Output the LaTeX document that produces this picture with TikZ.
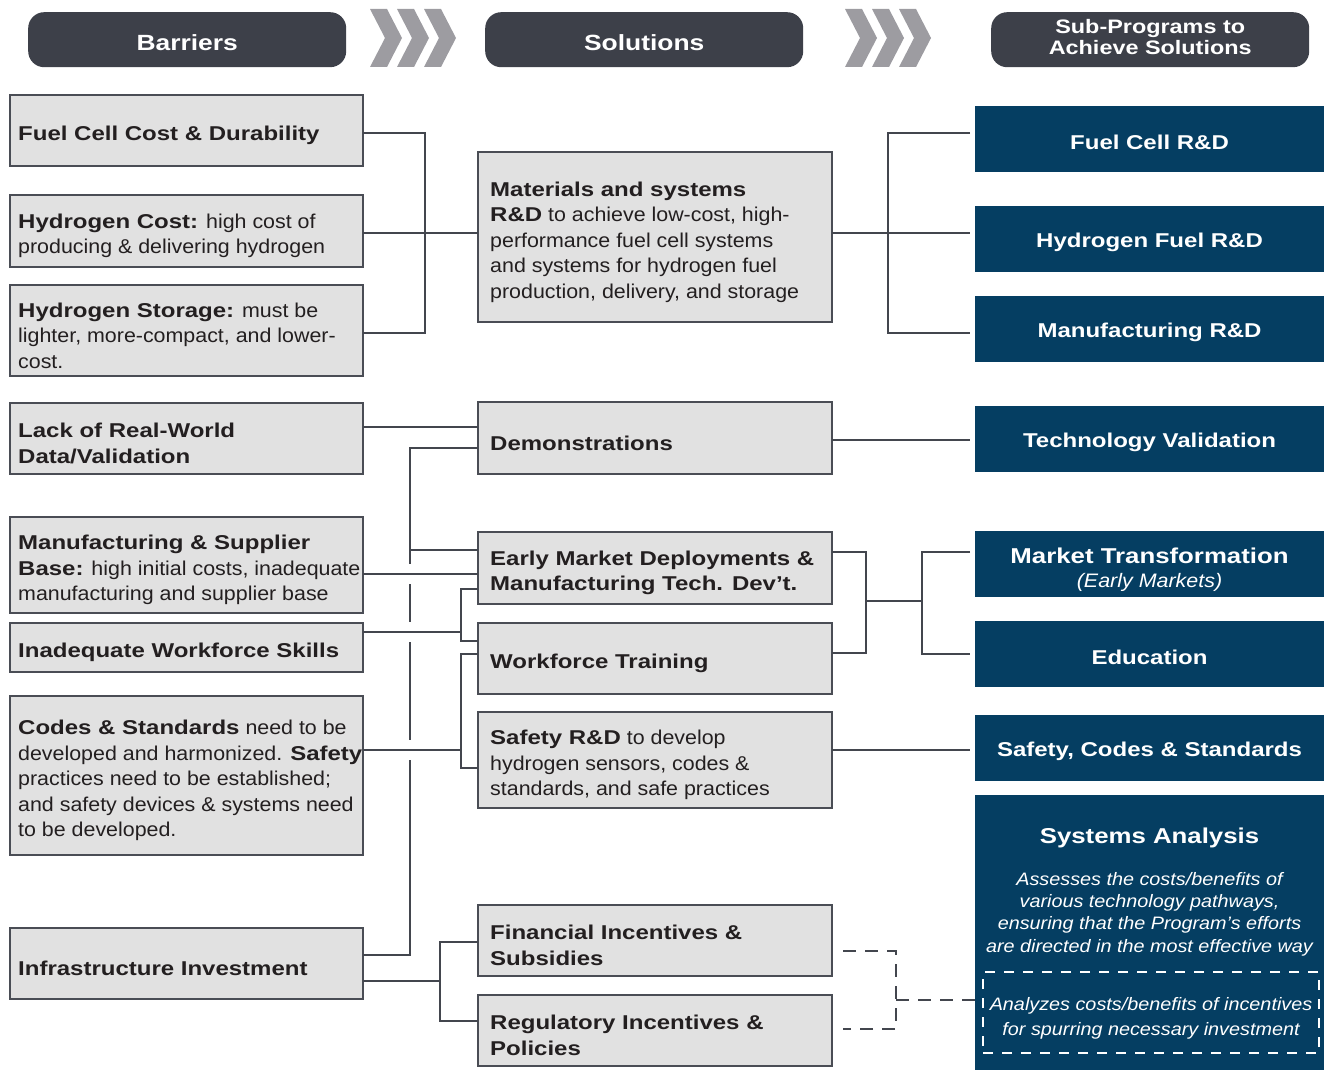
\documentclass[tikz,border=0pt]{standalone}
\usepackage{fontspec}
\setmainfont{Liberation Sans}[UprightFeatures={FakeStretch=1.07},BoldFeatures={FakeStretch=1.2},ItalicFeatures={FakeStretch=1.1},BoldItalicFeatures={FakeStretch=1.2}]
\usetikzlibrary{calc}
\definecolor{hdrgray}{HTML}{3D4049}
\definecolor{boxfill}{HTML}{E1E1E1}
\definecolor{boxline}{HTML}{4A4D55}
\definecolor{cline}{HTML}{43464E}
\definecolor{navy}{HTML}{053E62}
\definecolor{chevc}{HTML}{9D9CA1}
\definecolor{inkc}{HTML}{231F20}
\newcommand\GBox[7]{\node[gbox, minimum width=#4pt, minimum height=#5pt] (#1) at (#2,#3) {};
  \node[txt] (#1t) at ([xshift=#6pt,yshift=-5pt]#1.west) {#7};}
\newcommand\NBox[4]{\node[nbox] (#1) at (975,#2) {};
  \node[ntxt] (#1t) at ([yshift=#3pt]#1.center) {#4};}
\begin{document}
\begin{tikzpicture}[x=1pt,y=-1pt,
 gbox/.style={draw=boxline, fill=boxfill, line width=2.8pt, anchor=north west, inner sep=0pt, outer sep=0pt},
 txt/.style={anchor=west, align=left, inner sep=0pt, text=inkc, font=\fontsize{20}{25.5}\selectfont},
 nbox/.style={fill=navy, anchor=north west, inner sep=0pt, outer sep=0pt, minimum width=349pt, minimum height=66pt},
 ntxt/.style={text=white, align=center, inner sep=0pt, font=\fontsize{20}{24}\selectfont\bfseries},
 hbox/.style={fill=hdrgray, rounded corners=16pt, anchor=north west, inner sep=0pt, minimum width=318pt, minimum height=55pt},
 htxt/.style={text=white, align=center, inner sep=0pt},
 link/.style={draw=cline, line width=2.6pt},
 dlink/.style={draw=cline, line width=2.6pt, dash pattern=on 13pt off 9pt},
 gapmark/.style={draw=white, line width=6pt},
 chevron/.style={fill=chevc}
]
\useasboundingbox (0,0) rectangle (1324,1070);

% headers
\node[hbox] (hb) at (28,12) {};
\node[htxt, font=\fontsize{22}{26}\selectfont\bfseries] (hbt) at ([yshift=-3pt]hb.center) {Barriers};
\node[hbox] (hs) at (485,12) {};
\node[htxt, font=\fontsize{22}{26}\selectfont\bfseries] (hst) at ([yshift=-3pt]hs.center) {Solutions};
\node[hbox] (hp) at (991,12) {};
\node[htxt, font=\fontsize{19.5}{20.5}\selectfont\bfseries] (hpt) at ([yshift=2.5pt]hp.center) {Sub-Programs to\\Achieve Solutions};

% chevrons
\foreach \x in {370,397,424,845,872,899}{
  \fill[chevron] (\x,9) -- ++(17,0) -- ++(15,29) -- ++(-15,29) -- ++(-17,0) -- ++(15,-29) -- cycle;
}

% left: barriers
\GBox{b1}{10}{95}{353}{71}{8}{\textbf{Fuel Cell Cost \& Durability}}
\GBox{b2}{10}{195}{353}{72}{8}{\textbf{Hydrogen Cost:} high cost of\\producing \& delivering hydrogen}
\GBox{b3}{10}{285}{353}{91}{8}{\textbf{Hydrogen Storage:} must be\\lighter, more-compact, and lower-\\cost.}
\GBox{b4}{10}{403}{353}{71}{8}{\textbf{Lack of Real-World}\\\textbf{Data/Validation}}
\GBox{b5}{10}{517}{353}{96}{8}{\textbf{Manufacturing \& Supplier}\\\textbf{Base:} high initial costs, inadequate\\manufacturing and supplier base}
\GBox{b6}{10}{623}{353}{49}{8}{\textbf{Inadequate Workforce Skills}}
\GBox{b7}{10}{696}{353}{159}{8}{\textbf{Codes \& Standards} need to be\\developed and harmonized. \textbf{Safety}\\practices need to be established;\\and safety devices \& systems need\\to be developed.}
\GBox{b8}{10}{928}{353}{71}{8}{\textbf{Infrastructure Investment}}

% middle: solutions
\GBox{m1}{478}{152}{354}{170}{12}{\textbf{Materials and systems}\\\textbf{R\&D} to achieve low-cost, high-\\performance fuel cell systems\\and systems for hydrogen fuel\\production, delivery, and storage}
\GBox{m2}{478}{402}{354}{72}{12}{\textbf{Demonstrations}}
\GBox{m3}{478}{532}{354}{72}{12}{\textbf{Early Market Deployments \&}\\\textbf{Manufacturing Tech. Dev’t.}}
\GBox{m4}{478}{623}{354}{71}{12}{\textbf{Workforce Training}}
\GBox{m5}{478}{712}{354}{96}{12}{\textbf{Safety R\&D} to develop\\hydrogen sensors, codes \&\\standards, and safe practices}
\GBox{m6}{478}{905}{354}{71}{12}{\textbf{Financial Incentives \&}\\\textbf{Subsidies}}
\GBox{m7}{478}{995}{354}{71}{12}{\textbf{Regulatory Incentives \&}\\\textbf{Policies}}

% right: sub-programs
\NBox{r1}{106}{-3}{Fuel Cell R\&D}
\NBox{r2}{206}{-3}{Hydrogen Fuel R\&D}
\NBox{r3}{296}{-3}{Manufacturing R\&D}
\NBox{r4}{406}{-3}{Technology Validation}
\NBox{r5}{531}{-6}{{\fontsize{21.5}{26}\selectfont Market Transformation}\\{\fontsize{19.5}{26}\selectfont\mdseries\itshape (Early Markets)}}
\NBox{r6}{621}{-3}{Education}
\NBox{r7}{715}{-3}{Safety, Codes \& Standards}
\node[nbox, minimum height=275pt] (r8) at (975,795) {};
\node[ntxt, font=\fontsize{21.5}{26}\selectfont\bfseries] (r8t) at (1149.5,838) {Systems Analysis};
\node[ntxt, font=\fontsize{18}{22.3}\selectfont\itshape] (r8d) at (1149.5,914) {Assesses the costs/benefits of\\various technology pathways,\\ensuring that the Program’s efforts\\are directed in the most effective way};
\node[draw=white, line width=2pt, dash pattern=on 10pt off 9pt, anchor=north west, minimum width=336pt, minimum height=81pt, inner sep=0pt, outer sep=0pt] (sad) at (983,972) {};
\node[ntxt, font=\fontsize{18}{25}\selectfont\itshape] (sadt) at ([yshift=-6pt]sad.center) {Analyzes costs/benefits of incentives\\for spurring necessary investment};

% ---- connectors: top group
\draw[link] (b1.east |- 0,133) -| (425,233) |- (b3.east |- 0,333);
\draw[link] (b2.east |- 0,233) -- (m1.west |- 0,233);
\draw[link] (m1.east |- 0,233) -- ([xshift=-5pt]r2.west |- 0,233);
\draw[link] ([xshift=-5pt]r1.west |- 0,133) -| (888,233) |- ([xshift=-5pt]r3.west |- 0,333);

% demonstrations
\draw[link] (b4.east |- 0,427) -- (m2.west |- 0,427);
\draw[link] (m2.east |- 0,440) -- ([xshift=-5pt]r4.west |- 0,440);

% infrastructure bus to demonstrations and early markets
\draw[link] (b8.east |- 0,955) -| (410,448) -- (m2.west |- 0,448);
\draw[link] (410,550) -- (m3.west |- 0,550);
\draw[gapmark] (410,564) -- (410,584);
\draw[gapmark] (410,622) -- (410,642);
\draw[gapmark] (410,740) -- (410,760);

\draw[link] (b5.east |- 0,574) -- (m3.west |- 0,574);
\draw[link] (b6.east |- 0,632) -- (461,632);
\draw[link] (m3.west |- 0,589) -| (461,641) -- (m4.west |- 0,641);
\draw[link] (b7.east |- 0,750) -- (461,750);
\draw[link] (m4.west |- 0,654) -| (461,768) -- (m5.west |- 0,768);

% early markets / workforce to market transformation / education
\draw[link] (m3.east |- 0,552) -| (866,653) -- (m4.east |- 0,653);
\draw[link] (866,601) -- (922,601);
\draw[link] ([xshift=-5pt]r5.west |- 0,552) -| (922,654) -- ([xshift=-5pt]r6.west |- 0,654);

% safety
\draw[link] (m5.east |- 0,750) -- ([xshift=-5pt]r7.west |- 0,750);

% infrastructure to incentives
\draw[link] (b8.east |- 0,981) -- (440,981);
\draw[link] (m6.west |- 0,942) -| (440,1021) -- (m7.west |- 0,1021);

% dashed incentives to systems analysis
\draw[dlink] ([xshift=11pt]m6.east |- 0,951) -| (896,1029) -- ([xshift=11pt]m7.east |- 0,1029);
\draw[dlink] (896,1000) -- (sad.west |- 0,1000);
\end{tikzpicture}
\end{document}
